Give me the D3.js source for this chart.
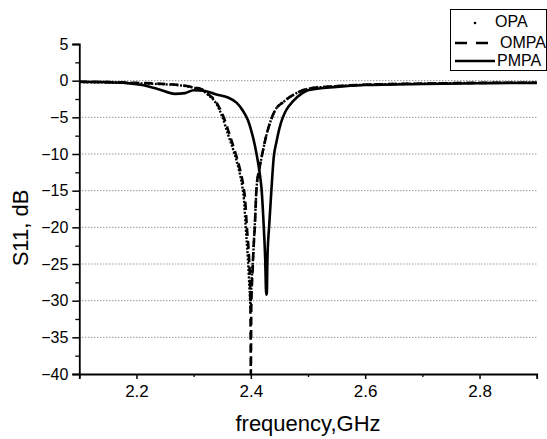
<!DOCTYPE html>
<html>
<head>
<meta charset="utf-8">
<script src="https://cdn.jsdelivr.net/npm/d3@7"></script>
<style>
  html, body { margin: 0; padding: 0; background: #fff; }
  svg { display: block; font-family: "Liberation Sans", Arial, sans-serif; }
</style>
</head>
<body>
<svg id="chart" width="547" height="439"></svg>
<script>
// ---- data ----
const seriesNames = ["OPA", "OMPA", "PMPA"];

const freqOPA = [2.10, 2.15, 2.20, 2.25, 2.27, 2.29, 2.30, 2.315, 2.323, 2.34, 2.35, 2.36, 2.37, 2.379, 2.385, 2.388, 2.391, 2.395, 2.398, 2.3995, 2.401, 2.404, 2.407, 2.410, 2.415, 2.420, 2.428, 2.436, 2.442, 2.457, 2.48, 2.50, 2.55, 2.60, 2.70, 2.80, 2.90];
const s11OPA  = [-0.2, -0.25, -0.35, -0.5, -0.6, -0.8, -0.95, -1.3, -1.8, -3.2, -4.9, -7.3, -9.6, -12.1, -14.4, -16.2, -19.9, -24.4, -28.8, -30.8, -28, -24, -19.5, -14.6, -12.0, -10.0, -7.2, -5.2, -4.1, -2.9, -1.7, -1.1, -0.75, -0.55, -0.4, -0.3, -0.28];

const freqOMPA = [2.10, 2.15, 2.20, 2.25, 2.27, 2.29, 2.30, 2.315, 2.323, 2.34, 2.352, 2.363, 2.372, 2.381, 2.387, 2.390, 2.393, 2.397, 2.399, 2.3995, 2.400, 2.4008, 2.403, 2.405, 2.407, 2.410, 2.415, 2.420, 2.428, 2.436, 2.442, 2.457, 2.48, 2.50, 2.55, 2.60, 2.70, 2.80, 2.90];
const s11OMPA  = [-0.15, -0.2, -0.3, -0.45, -0.55, -0.75, -0.9, -1.2, -1.7, -3.0, -4.9, -7.4, -9.6, -12.1, -14.4, -16.2, -19.9, -24.4, -28.5, -33, -40, -31, -26, -22.5, -19.9, -14.6, -12.0, -10.0, -7.2, -5.2, -4.1, -2.9, -1.7, -1.1, -0.75, -0.55, -0.4, -0.3, -0.28];

const freqPMPA = [2.10, 2.15, 2.18, 2.21, 2.24, 2.267, 2.285, 2.30, 2.32, 2.34, 2.36, 2.375, 2.387, 2.395, 2.40, 2.407, 2.410, 2.414, 2.417, 2.419, 2.421, 2.423, 2.425, 2.427, 2.428, 2.429, 2.432, 2.436, 2.440, 2.445, 2.450, 2.456, 2.462, 2.474, 2.49, 2.50, 2.55, 2.60, 2.70, 2.80, 2.90];
const s11PMPA  = [-0.15, -0.2, -0.3, -0.6, -1.2, -1.8, -1.7, -1.3, -1.4, -1.9, -2.3, -3.0, -4.2, -5.4, -6.6, -8.8, -10.0, -11.8, -13.5, -15, -17.5, -20.5, -24, -29.2, -29, -24.4, -19.9, -14.9, -10.5, -8.3, -6.5, -5.0, -4.0, -2.8, -1.7, -1.3, -0.85, -0.6, -0.45, -0.35, -0.3];

const xTickValues = [2.2, 2.4, 2.6, 2.8];
const xMinorTicks = [2.1, 2.3, 2.5, 2.7, 2.9];
const yTickValues = [5, 0, -5, -10, -15, -20, -25, -30, -35, -40];
const yMinorTicks = [2.5, -2.5, -7.5, -12.5, -17.5, -22.5, -27.5, -32.5, -37.5];
const gridValues = [0, -5, -10, -15, -20, -25, -30, -35];

// ---- layout ----
const svg = d3.select("#chart");
const x = d3.scaleLinear().domain([2.1, 2.9]).range([79.3, 536.7]);
const y = d3.scaleLinear().domain([-40, 5]).range([374, 44]);

// grid
svg.append("g").selectAll("line").data(gridValues).join("line")
  .attr("x1", x(2.1)).attr("x2", x(2.9))
  .attr("y1", d => y(d)).attr("y2", d => y(d))
  .attr("stroke", "#666").attr("stroke-width", 1)
  .attr("stroke-dasharray", "1,2");

// curves
const line = d3.line().x(d => x(d[0])).y(d => y(d[1])).curve(d3.curveMonotoneX);
const zip = (a, b) => a.map((v, i) => [v, b[i]]);

svg.append("path").datum(zip(freqPMPA, s11PMPA))
  .attr("d", line).attr("fill", "none").attr("stroke", "#000")
  .attr("stroke-width", 2.6).attr("stroke-linejoin", "round");
svg.append("path").datum(zip(freqOMPA, s11OMPA))
  .attr("d", line).attr("fill", "none").attr("stroke", "#000")
  .attr("stroke-width", 2.6).attr("stroke-dasharray", "8,5");
svg.append("path").datum(zip(freqOPA, s11OPA))
  .attr("d", line).attr("fill", "none").attr("stroke", "#000")
  .attr("stroke-width", 2.4).attr("stroke-dasharray", "2,1.6");

// axes
const yAxis = d3.axisLeft(y).tickValues(yTickValues).tickSize(7).tickPadding(4)
  .tickFormat(d3.format("d"));
const gy = svg.append("g").attr("transform", `translate(${x(2.1)},0)`).call(yAxis);
gy.select(".domain").attr("stroke-width", 1.8);
gy.selectAll(".tick line").attr("stroke-width", 1.5);
gy.selectAll(".tick text").attr("font-size", 16).attr("font-family", "Liberation Sans, Arial, sans-serif");
svg.append("g").attr("transform", `translate(${x(2.1)},0)`)
  .call(d3.axisLeft(y).tickValues(yMinorTicks).tickSize(4).tickFormat(""))
  .call(g => g.select(".domain").remove())
  .selectAll(".tick line").attr("stroke-width", 1.3);

const xAxis = d3.axisBottom(x).tickValues(xTickValues).tickSize(5).tickPadding(6)
  .tickFormat(d3.format(".1f"));
const gx = svg.append("g").attr("transform", `translate(0,${y(-40)})`).call(xAxis);
gx.select(".domain").attr("stroke-width", 1.8);
gx.selectAll(".tick line").attr("stroke-width", 1.5);
gx.selectAll(".tick text").attr("font-size", 17).attr("font-family", "Liberation Sans, Arial, sans-serif");
svg.append("g").attr("transform", `translate(0,${y(-40)})`)
  .call(d3.axisBottom(x).tickValues(xMinorTicks).tickSize(3).tickFormat(""))
  .call(g => g.select(".domain").remove())
  .selectAll(".tick line").attr("stroke-width", 1.3);

// axis titles
svg.append("text").attr("x", 308).attr("y", 431)
  .attr("text-anchor", "middle").attr("font-size", 22).text("frequency,GHz");
svg.append("text").attr("transform", "translate(28,228) rotate(-90)")
  .attr("text-anchor", "middle").attr("font-size", 22).text("S11, dB");

// legend
const lg = svg.append("g");
lg.append("rect").attr("x", 450.5).attr("y", 9.5).attr("width", 96).attr("height", 61)
  .attr("fill", "#fff").attr("stroke", "#000").attr("stroke-width", 1);
lg.append("circle").attr("cx", 475).attr("cy", 23).attr("r", 1.3).attr("fill", "#000");
lg.append("line").attr("x1", 455).attr("x2", 489).attr("y1", 43).attr("y2", 43)
  .attr("stroke", "#000").attr("stroke-width", 2.6).attr("stroke-dasharray", "12,9");
lg.append("line").attr("x1", 455).attr("x2", 495).attr("y1", 61).attr("y2", 61)
  .attr("stroke", "#000").attr("stroke-width", 2.6);
const legendX = [495, 500, 497];
const legendY = [27, 48, 66];
seriesNames.forEach((n, i) => {
  lg.append("text").attr("x", legendX[i]).attr("y", legendY[i])
    .attr("font-size", 16).text(n);
});
</script>
</body>
</html>
